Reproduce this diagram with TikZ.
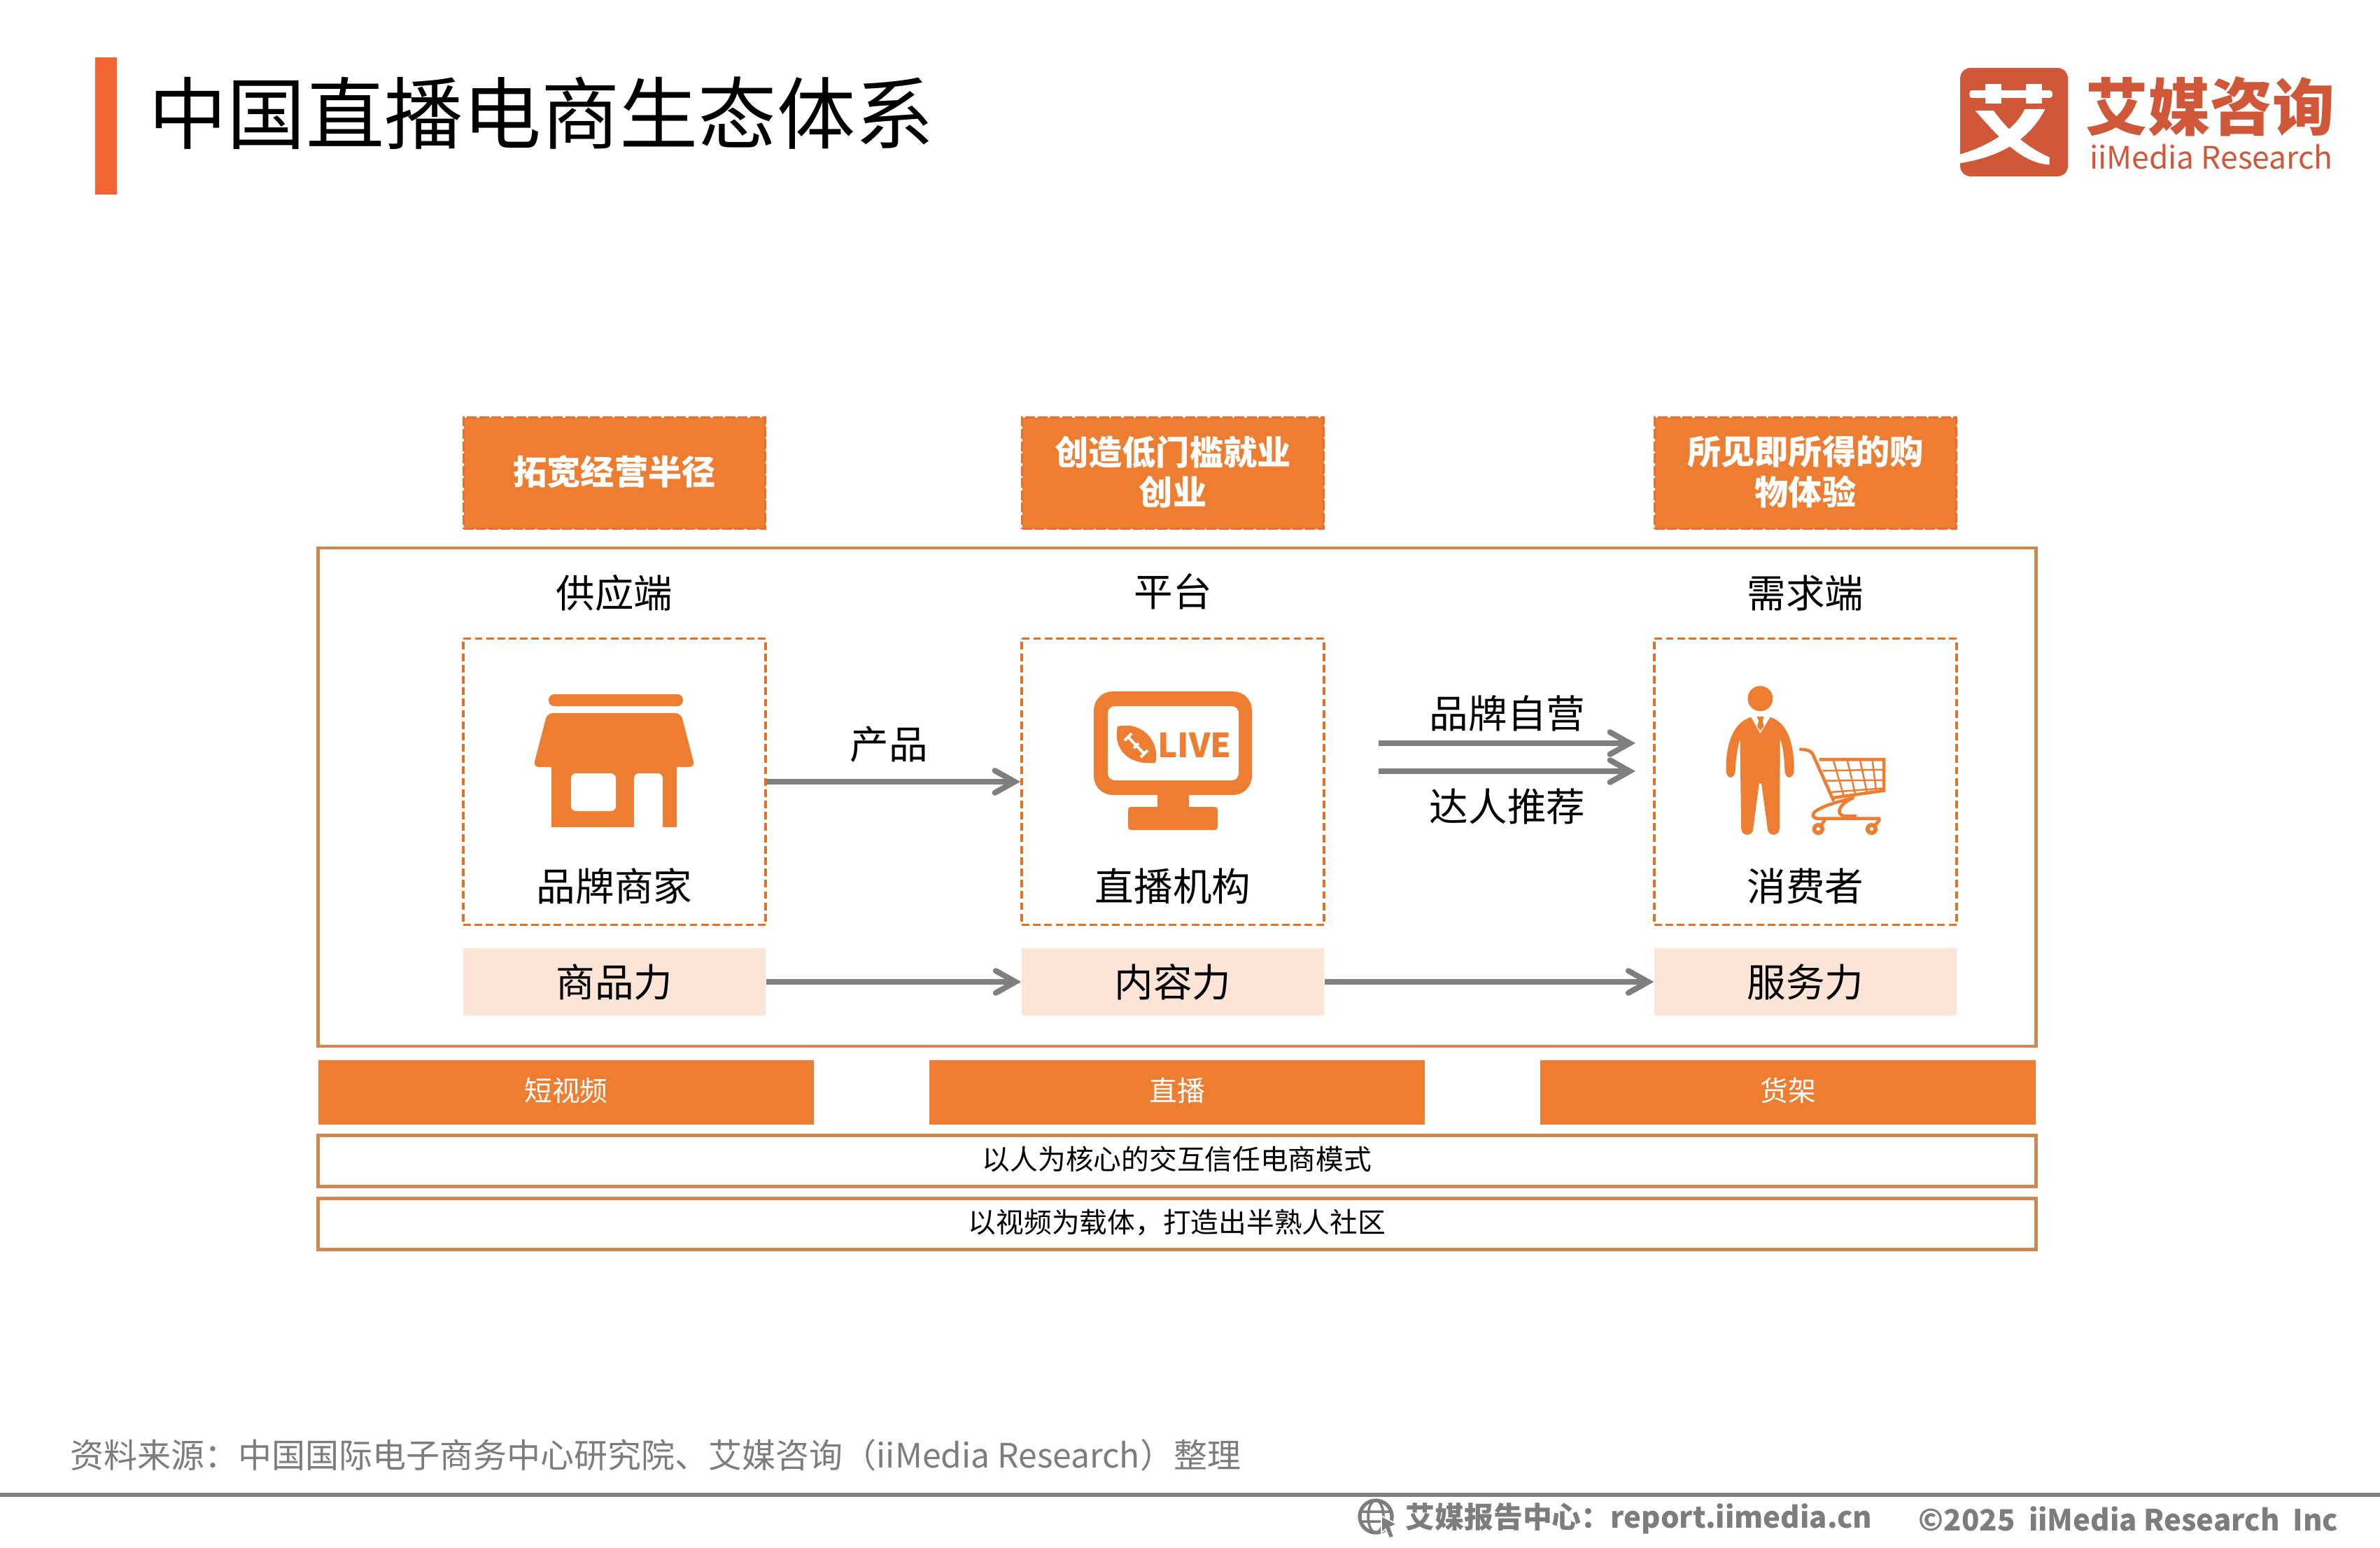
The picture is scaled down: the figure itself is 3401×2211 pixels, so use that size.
\documentclass[tikz,border=0pt]{standalone}
\usepackage{fontspec}
\usepackage{xcolor}
\usetikzlibrary{arrows.meta}
\setmainfont{Noto Sans CJK SC}
\definecolor{accent}{RGB}{237,125,49}
\definecolor{dashcol}{RGB}{222,114,40}
\definecolor{framecol}{RGB}{208,135,80}
\definecolor{tint}{RGB}{252,228,214}
\definecolor{arrowgray}{RGB}{127,127,127}
\definecolor{logocol}{RGB}{208,88,56}
\definecolor{barcol}{RGB}{243,101,50}
\definecolor{srcgray}{RGB}{125,125,125}
\newcommand{\pxu}{*0.01cm}
\tikzset{
  textup/.style={execute at end node={\rule[-2.3pt]{0pt}{0pt}}},
  head/.style={draw=accent!85!red,dash pattern=on 4pt off 1pt,fill=accent,line width=1pt,minimum width=431\pxu,minimum height=159\pxu,text=white,align=center,inner sep=0pt,textup,font=\fontsize{13.7}{16.3}\selectfont\bfseries},
  dashbox/.style={draw=dashcol,dash pattern=on 3.1pt off 1.5pt,line width=1.1pt,minimum width=432\pxu,minimum height=409\pxu},
  word/.style={inner sep=0pt,font=\fontsize{15.8}{19}\selectfont},
  power/.style={fill=tint,minimum width=432\pxu,minimum height=96\pxu,inner sep=0pt,font=\fontsize{15.8}{19}\selectfont},
  band/.style={fill=accent,minimum width=708\pxu,minimum height=92\pxu,text=white,inner sep=0pt,textup,font=\fontsize{11.3}{14}\selectfont},
  strip/.style={draw=framecol,line width=1.2pt,minimum width=2455\pxu,minimum height=73\pxu,inner sep=0pt,textup,font=\fontsize{11.3}{14}\selectfont},
  flow/.style={draw=arrowgray,line width=2.3pt,-{Straight Barb[length=8pt,width=9pt,line width=2.3pt,line cap=round,line join=miter]}},
}
\begin{document}
\begin{tikzpicture}[x=0.01cm,y=-0.01cm]
    \useasboundingbox (0,0) rectangle (3401,2211);
    \fill[white] (0,0) rectangle (3401,2211);
    % title
    \fill[barcol] (136,82) rectangle (167,278);
    \node[anchor=west,inner sep=0pt,font=\fontsize{31.9}{36}\selectfont] (title) at (212,162) {中国直播电商生态体系};
    % logo
    \fill[logocol,rounded corners=15\pxu] (2801,97) rectangle (2955,252);
    \begin{scope}[shift={(2750,60)},x=0.004146cm,y=-0.003333cm]
        \fill[white,rounded corners=1pt] (155,208) rectangle (440,240);
        \fill[white] (210,180) rectangle (265,265);
        \fill[white] (350,180) rectangle (405,265);
        \fill[white] (175,295) -- (238,295) .. controls (270,350) and (330,440) .. (430,495) -- (430,527) .. controls (330,520) and (250,400) .. (175,295) -- cycle;
        \fill[white] (415,288) -- (345,288) .. controls (320,360) and (240,440) .. (123,482) -- (123,520) .. controls (280,490) and (370,400) .. (415,288) -- cycle;
    \end{scope}
    \node[inner sep=0pt,text=logocol,font=\fontsize{25.3}{30}\selectfont\bfseries] (logoname) at (3158,152) {艾媒咨询};
    \node[inner sep=0pt,text=logocol,font=\fontsize{12.6}{15}\selectfont] (logosub) at (3160,224) {iiMedia Research};
    % frame
    \node[draw=framecol,line width=1.2pt,minimum width=2455\pxu,minimum height=712\pxu,inner sep=0pt] (frame) at (1682,1139) {};
    \node[head] (headA) at (878,676) {拓宽经营半径};
    \node[head] (headB) at (1676,676) {创造低门槛就业\\创业};
    \node[head] (headC) at (2580,676) {所见即所得的购\\物体验};
    \node[word] (sideA) at (878,847) {供应端};
    \node[word] (sideB) at (1676,845) {平台};
    \node[word] (sideC) at (2580,847) {需求端};
    \node[dashbox] (boxA) at (878,1117) {};
    \node[dashbox] (boxB) at (1676,1117) {};
    \node[dashbox] (boxC) at (2580,1117) {};
    \node[word] (nameA) at (878,1266) {品牌商家};
    \node[word] (nameB) at (1676,1266) {直播机构};
    \node[word] (nameC) at (2580,1266) {消费者};
    % shop
    \fill[accent,rounded corners=8\pxu] (784,992) rectangle (976,1009);
    \fill[accent,rounded corners=8\pxu] (782,1019) -- (973,1019) -- (993,1096) -- (762,1096) -- cycle;
    \fill[accent] (788,1090) rectangle (967,1182);
    \fill[white,rounded corners=7\pxu] (816,1105) rectangle (880,1159);
    \fill[white,rounded corners=7\pxu] (906,1190) -- (906,1105) -- (947,1105) -- (947,1190) -- cycle;
    \fill[white] (900,1182) rectangle (950,1195);
    % monitor
    \fill[accent,rounded corners=27\pxu] (1563,988) rectangle (1789,1136);
    \fill[white,rounded corners=10\pxu] (1583,1009) rectangle (1770,1115);
    \fill[accent] (1654,1130) rectangle (1699,1160);
    \fill[accent,rounded corners=4\pxu] (1612,1153) rectangle (1740,1186);
    \fill[accent] (1597,1038) .. controls (1635,1030) and (1658,1062) .. (1651,1090) .. controls (1612,1094) and (1590,1070) .. (1597,1038) -- cycle;
    \draw[white,line width=1.1pt] (1612,1053) -- (1635,1077) (1607,1058) -- (1617,1048) (1630,1082) -- (1640,1072) (1620,1069) -- (1627,1062);
    \node[inner sep=0pt,text=accent,font=\fontsize{13.5}{15}\selectfont\bfseries] (live) at (1707,1065) {LIVE};
    % shopper and cart
    \begin{scope}[shift={(2340,900)},x=0.003333cm,y=-0.003333cm]
        \fill[accent] (527,295) circle (54);
        \fill[accent] (487,375) .. controls (420,395) and (380,470) .. (380,600) .. controls (380,645) and (420,645) .. (420,600) .. controls (422,550) and (430,500) .. (440,470) -- (445,850) .. controls (445,890) and (497,890) .. (497,850) -- (522,660) -- (532,660) -- (558,850) .. controls (558,890) and (610,890) .. (610,850) -- (612,470) .. controls (625,500) and (630,550) .. (632,600) .. controls (632,645) and (672,645) .. (672,600) .. controls (672,470) and (635,395) .. (570,375) -- (527,445) -- cycle;
        \fill[accent] (512,372) -- (543,372) -- (537,390) -- (542,415) -- (527,432) -- (514,415) -- (520,390) -- cycle;
        \draw[accent,line width=1.3pt,line cap=round] (700,513) .. controls (745,515) and (750,525) .. (762,555) -- (840,730);
        \draw[accent,line width=1.3pt] (780,557) -- (1058,557) -- (1058,690) -- (835,722);
        \draw[accent,line width=0.7pt] (795,605) -- (1058,600) (812,648) -- (1058,645);
        \draw[accent,line width=0.7pt] (828,697) -- (1058,680);
        \draw[accent,line width=0.7pt] (840,557) -- (885,712) (900,557) -- (935,705) (955,557) -- (985,698) (1008,557) -- (1025,692);
        \draw[accent,line width=1.3pt] (930,720) .. controls (880,735) and (820,745) .. (770,775) .. controls (745,790) and (750,810) .. (775,810) -- (1043,810);
        \draw[accent,line width=1.3pt] (925,722) .. controls (860,750) and (850,795) .. (890,800) -- (940,800);
        \draw[accent,line width=1.3pt] (805,815) -- (785,845) (1040,815) -- (1015,845);
        \fill[accent] (776,855) circle (26);
        \fill[accent] (1005,855) circle (26);
        \fill[white] (776,855) circle (8);
        \fill[white] (1005,855) circle (8);
    \end{scope}
    % power row
    \node[power] (powerA) at (878,1403) {商品力};
    \node[power] (powerB) at (1676,1403) {内容力};
    \node[power] (powerC) at (2580,1403) {服务力};
    % arrows
    \draw[flow] (boxA.east) -- (boxB.west);
    \node[word] (labelA) at (1270,1064) {产品};
    \coordinate (upL) at (1970,1062);
    \coordinate (upR) at (2337,1062);
    \coordinate (lowL) at (1970,1102);
    \coordinate (lowR) at (2337,1102);
    \draw[flow] (upL) -- (upR);
    \draw[flow] (lowL) -- (lowR);
    \node[word] (labelB) at (2154,1019) {品牌自营};
    \node[word] (labelC) at (2154,1152) {达人推荐};
    \draw[flow] (powerA) -- (powerB);
    \draw[flow] (powerB) -- (powerC);
    % bottom
    \node[band] (bandA) at (809,1561) {短视频};
    \node[band] (bandB) at (1682,1561) {直播};
    \node[band] (bandC) at (2555,1561) {货架};
    \node[strip] (stripA) at (1682,1659) {以人为核心的交互信任电商模式};
    \node[strip] (stripB) at (1682,1749) {以视频为载体，打造出半熟人社区};
    % footer
    \node[anchor=west,inner sep=0pt,text=srcgray,font=\fontsize{13.65}{16}\selectfont] (source) at (100,2079) {资料来源：中国国际电子商务中心研究院、艾媒咨询（iiMedia Research）整理};
    \coordinate (ruleL) at (0,2136);
    \coordinate (ruleR) at (3401,2136);
    \draw[arrowgray,line width=1.7pt] (ruleL) -- (ruleR);
    \draw[srcgray,line width=1.5pt] (1966,2167) circle (23);
    \draw[srcgray,line width=1pt] (1966,2167) ellipse (11 and 23) (1943,2160) -- (1989,2160) (1943,2174) -- (1989,2174);
    \fill[srcgray,draw=white,line width=0.5pt] (1974,2166) -- (1996,2178) -- (1987,2182) -- (1992,2196) -- (1985,2198) -- (1980,2185) -- (1974,2190) -- cycle;
    \node[anchor=west,inner sep=0pt,text=srcgray,font=\fontsize{11.9}{14}\selectfont\bfseries] (center) at (2008,2170) {艾媒报告中心：report.iimedia.cn};
    \node[anchor=east,inner sep=0pt,text=srcgray,font=\fontsize{11.9}{14}\selectfont\bfseries] (copy) at (3342,2170) {©2025\ \ iiMedia Research\ \ Inc};
\end{tikzpicture}
\end{document}
